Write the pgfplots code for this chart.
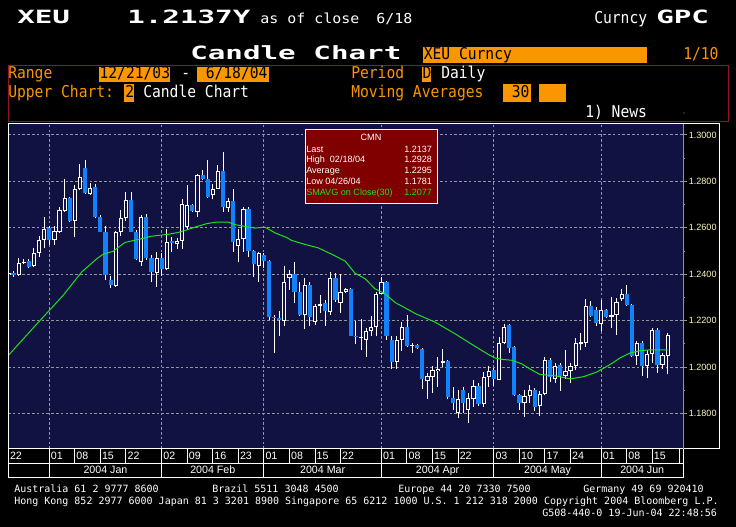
\documentclass[border=0pt]{standalone}
\usepackage{fontspec}
\setmainfont{Liberation Sans}
\newfontfamily\bbwide[FakeStretch=1.6]{DejaVu Sans Mono}
\newfontfamily\bbnarrow[FakeStretch=0.9]{DejaVu Sans Mono}
\newfontfamily\bbmono{DejaVu Sans Mono}
\usepackage{graphicx}
\usepackage{pgfplots}
\usepackage{pgfplotstable}
\pgfplotsset{compat=1.18}

\definecolor{bbnavy}{RGB}{18,18,66}
\definecolor{bborange}{RGB}{250,150,0}
\definecolor{bbblue}{RGB}{18,130,250}
\definecolor{bbgreen}{RGB}{30,225,30}
\definecolor{bbred}{RGB}{128,0,0}
\definecolor{bbframe}{RGB}{150,20,35}
\definecolor{gridgray}{RGB}{150,150,150}
\definecolor{ticklab}{RGB}{255,250,190}

% daily candles, i = trading day from 22 Dec 2003
\pgfplotstableread{
i O H L C
0 1.2395 1.2412 1.2388 1.2405
1 1.2405 1.2415 1.2390 1.2395
2 1.2397 1.2471 1.2393 1.2450
3 1.2450 1.2468 1.2443 1.2455
4 1.2457 1.2464 1.2428 1.2431
5 1.2435 1.2513 1.2431 1.2492
6 1.2492 1.2563 1.2474 1.2548
7 1.2548 1.2648 1.2513 1.2596
8 1.2599 1.2606 1.2528 1.2549
9 1.2546 1.2606 1.2528 1.2587
10 1.2584 1.2691 1.2577 1.2677
11 1.2674 1.2811 1.2670 1.2729
12 1.2729 1.2733 1.2627 1.2630
13 1.2630 1.2783 1.2559 1.2766
14 1.2766 1.2874 1.2762 1.2817
15 1.2857 1.2894 1.2746 1.2750
16 1.2746 1.2794 1.2740 1.2773
17 1.2776 1.2790 1.2641 1.2648
18 1.2648 1.2655 1.2582 1.2584
19 1.2580 1.2610 1.2374 1.2397
20 1.2374 1.2393 1.2343 1.2355
21 1.2350 1.2587 1.2347 1.2582
22 1.2582 1.2677 1.2563 1.2641
23 1.2641 1.2755 1.2630 1.2719
24 1.2719 1.2755 1.2582 1.2584
25 1.2582 1.2591 1.2460 1.2464
26 1.2454 1.2654 1.2437 1.2647
27 1.2647 1.2661 1.2461 1.2469
28 1.2469 1.2483 1.2366 1.2411
29 1.2407 1.2497 1.2347 1.2471
30 1.2471 1.2490 1.2394 1.2423
31 1.2421 1.2597 1.2419 1.2540
32 1.2543 1.2561 1.2497 1.2536
33 1.2531 1.2557 1.2511 1.2544
34 1.2544 1.2726 1.2511 1.2704
35 1.2604 1.2786 1.2597 1.2700
36 1.2697 1.2704 1.2669 1.2671
37 1.2669 1.2833 1.2647 1.2829
38 1.2829 1.2847 1.2804 1.2811
39 1.2809 1.2894 1.2729 1.2733
40 1.2740 1.2790 1.2723 1.2769
41 1.2767 1.2869 1.2766 1.2843
42 1.2843 1.2926 1.2669 1.2690
43 1.2686 1.2729 1.2669 1.2714
44 1.2714 1.2769 1.2497 1.2540
45 1.2523 1.2597 1.2451 1.2554
46 1.2550 1.2690 1.2497 1.2683
47 1.2683 1.2690 1.2476 1.2500
48 1.2500 1.2504 1.2387 1.2443
49 1.2437 1.2497 1.2369 1.2490
50 1.2483 1.2490 1.2426 1.2457
51 1.2457 1.2461 1.2204 1.2216
52 1.2216 1.2226 1.2060 1.2210
53 1.2210 1.2244 1.2136 1.2204
54 1.2201 1.2434 1.2176 1.2365
55 1.2386 1.2420 1.2332 1.2403
56 1.2403 1.2455 1.2278 1.2325
57 1.2325 1.2367 1.2221 1.2226
58 1.2223 1.2382 1.2165 1.2353
59 1.2353 1.2367 1.2179 1.2218
60 1.2193 1.2272 1.2183 1.2264
61 1.2264 1.2311 1.2233 1.2272
62 1.2278 1.2289 1.2179 1.2240
63 1.2236 1.2410 1.2226 1.2386
64 1.2386 1.2406 1.2282 1.2289
65 1.2278 1.2400 1.2233 1.2325
66 1.2325 1.2343 1.2321 1.2335
67 1.2335 1.2339 1.2133 1.2136
68 1.2136 1.2197 1.2098 1.2133
69 1.2126 1.2207 1.2074 1.2130
70 1.2116 1.2169 1.2045 1.2155
71 1.2155 1.2221 1.2136 1.2173
72 1.2172 1.2325 1.2133 1.2315
73 1.2315 1.2389 1.2315 1.2365
74 1.2365 1.2372 1.2119 1.2136
75 1.2119 1.2133 1.1991 1.2023
76 1.2023 1.2133 1.1994 1.2119
77 1.2119 1.2196 1.2070 1.2175
78 1.2175 1.2225 1.2088 1.2091
79 1.2094 1.2106 1.2062 1.2097
80 1.2094 1.2099 1.2080 1.2084
81 1.2080 1.2084 1.1906 1.1949
82 1.1939 1.1975 1.1865 1.1964
83 1.1957 1.2007 1.1888 1.1987
84 1.1983 1.2045 1.1914 1.1994
85 1.2019 1.2080 1.2001 1.2025
86 1.2025 1.2030 1.1862 1.1871
87 1.1868 1.1914 1.1816 1.1845
88 1.1803 1.1903 1.1780 1.1862
89 1.1903 1.1914 1.1801 1.1845
90 1.1816 1.1888 1.1758 1.1867
91 1.1862 1.1946 1.1830 1.1920
92 1.1920 1.1932 1.1833 1.1842
93 1.1842 1.1978 1.1828 1.1958
94 1.1958 1.2004 1.1914 1.1983
95 1.1987 1.1997 1.1920 1.1949
96 1.1943 1.2132 1.1943 1.2103
97 1.2103 1.2186 1.2099 1.2175
98 1.2181 1.2186 1.2062 1.2081
99 1.2088 1.2091 1.1877 1.1881
100 1.1881 1.1886 1.1816 1.1848
101 1.1845 1.1903 1.1787 1.1874
102 1.1874 1.1925 1.1845 1.1903
103 1.1903 1.1910 1.1810 1.1830
104 1.1835 1.1898 1.1790 1.1886
105 1.1886 1.2044 1.1879 1.2030
106 1.2030 1.2040 1.1936 1.1959
107 1.1950 1.2019 1.1933 1.2004
108 1.2011 1.2019 1.1898 1.1964
109 1.1962 1.2075 1.1950 1.1983
110 1.1983 1.2019 1.1933 1.2007
111 1.2004 1.2125 1.1990 1.2104
112 1.2101 1.2149 1.2073 1.2107
113 1.2104 1.2292 1.2087 1.2263
114 1.2263 1.2286 1.2218 1.2221
115 1.2246 1.2258 1.2178 1.2189
116 1.2186 1.2289 1.2154 1.2246
117 1.2246 1.2249 1.2211 1.2218
118 1.2215 1.2303 1.2168 1.2223
119 1.2223 1.2296 1.2139 1.2279
120 1.2292 1.2335 1.2286 1.2317
121 1.2317 1.2353 1.2263 1.2268
122 1.2268 1.2272 1.2044 1.2050
123 1.2047 1.2115 1.2011 1.2104
124 1.2104 1.2111 1.1964 1.2007
125 1.2004 1.2075 1.1954 1.2058
126 1.2058 1.2168 1.2019 1.2161
127 1.2161 1.2168 1.1976 1.2011
128 1.2011 1.2061 1.1993 1.2054
129 1.2050 1.2147 1.1969 1.2137
}\candles

% 30-day moving average
\pgfplotstableread{
i ma
0 1.2051
5.3 1.2180
10.7 1.2309
14.3 1.2409
17.3 1.2467
18.5 1.2486
20.5 1.2499
22.8 1.2537
25.8 1.2552
28.0 1.2564
31.2 1.2572
33.2 1.2580
34.6 1.2589
36.5 1.2603
38.8 1.2618
40.8 1.2625
43.0 1.2625
44.3 1.2614
46.3 1.2606
48.3 1.2599
50.2 1.2603
52.2 1.2578
54.5 1.2558
55.4 1.2546
58.0 1.2529
60.6 1.2514
63.3 1.2486
65.9 1.2457
67.8 1.2405
69.8 1.2381
71.7 1.2338
73.7 1.2316
75.7 1.2278
77.6 1.2256
79.6 1.2231
83.5 1.2194
87.4 1.2144
91.3 1.2090
93.9 1.2055
95.2 1.2040
96.5 1.2034
98.5 1.2030
100.4 1.2015
102.1 1.1992
104.0 1.1969
107.3 1.1962
109.9 1.1950
112.5 1.1959
115.1 1.1979
117.7 1.2011
119.7 1.2040
121.6 1.2061
123.6 1.2071
125.6 1.2075
129 1.2075
}\sma

\pgfplotsset{
  candle part/.style 2 args={draw=none, mark=none, forget plot,
    error bars/.cd, y dir=plus, y explicit, error mark=none,
    error bar style={draw=#1, line width=#2, solid}},
}

\begin{document}
\begin{tikzpicture}
% page in pixel units (y down)
\begin{scope}[x=0.75pt,y=-0.75pt]
\useasboundingbox (0,0) rectangle (736,527);
\fill[black] (0,0) rectangle (736,527);
\end{scope}

\begin{axis}[
    at={(6pt,-336.75pt)}, anchor=south west,
    width=506.5pt, height=243.75pt, scale only axis,
    xmin=-0.08, xmax=132.07, ymin=1.1648, ymax=1.3047,
    axis background/.style={fill=bbnavy},
    axis line style={draw=none},
    xtick={8,30,50,73,95,116}, xticklabels={}, x tick style={draw=none},
    ytick={1.18,1.2,1.22,1.24,1.26,1.28,1.3},
    minor y tick num=1,
    ytick pos=right, yticklabel pos=right,
    tick align=outside, major tick length=3pt, minor tick length=1.5pt,
    y tick style={draw=gridgray, line width=0.75pt},
    xmajorgrids, ymajorgrids,
    grid style={draw=gridgray, line width=0.75pt, dash pattern=on 2pt off 1.6pt},
    yticklabel style={/pgf/number format/.cd, fixed, fixed zerofill, precision=4,
        assume math mode=true, /tikz/.cd,
        font=\fontsize{6.8}{8}\selectfont, text=ticklab, anchor=west, xshift=-2.4pt},
]
% wicks
\addplot[candle part={white}{0.75pt}]
    table[x=i, y=L, y error expr=\thisrow{H}-\thisrow{L}] {\candles};
% up bodies (hollow)
\addplot[candle part={white}{3.15pt}]
    table[x=i, y=O, y error expr={max(\thisrow{C}-\thisrow{O},0)}] {\candles};
\addplot[candle part={bbnavy}{1.65pt}]
    table[x=i, y expr=\thisrow{O}+0.00043,
          y error expr={max(\thisrow{C}-\thisrow{O}-0.00086,0)}] {\candles};
% down bodies
\addplot[candle part={bbblue}{3.15pt}]
    table[x=i, y=C, y error expr={max(\thisrow{O}-\thisrow{C},0)}] {\candles};
% 30-day SMA
\addplot[bbgreen, line width=0.75pt, mark=none] table[x=i, y=ma] {\sma};
\end{axis}

\begin{scope}[x=0.75pt,y=-0.75pt, every node/.style={inner sep=0pt}]
% chart frame
\draw[white, line width=0.75pt] (8,124) rectangle (719,449);
\draw[gridgray, line width=0.75pt] (683.3,124) -- (683.3,449);

% date band
\draw[white, line width=0.75pt] (8,449) -- (8,477) -- (683.3,477) -- (683.3,449);
\draw[white, line width=0.75pt] (8,463) -- (683.3,463);
\draw[white, line width=0.75pt] (679,449) -- (679,463);
\foreach \i/\t in {0/22,8/01,13/08,18/15,23/22,30/02,35/09,40/16,45/23,50/01,55/08,60/15,65/22,
                   73/01,78/08,83/15,88/22,95/03,100/10,105/17,110/24,116/01,121/08,126/15}{
  \pgfmathsetmacro\xx{8.4+5.11*\i}
  \draw[white, line width=0.75pt] (\xx,449) -- (\xx,463);
  \node[anchor=base west, text=white, font=\fontsize{8}{9}\selectfont] at ({\xx+1.4},459.8) {\t};
}
\foreach \a/\b/\m in {8/30/Jan,30/50/Feb,50/73/Mar,73/95/Apr,95/116/May}{
  \pgfmathsetmacro\xa{8.4+5.11*\a}
  \pgfmathsetmacro\xb{8.4+5.11*\b}
  \draw[white, line width=0.75pt] (\xa,463) -- (\xa,477);
  \node[anchor=base, text=white, font=\fontsize{8}{9}\selectfont] at ({(\xa+\xb)/2},473.8) {2004 \m};
}
\draw[white, line width=0.75pt] (601.2,463) -- (601.2,477);
\node[anchor=base, text=white, font=\fontsize{8}{9}\selectfont] at (642.2,473.8) {2004 Jun};

% statistics box
\draw[white, fill=bbred, line width=0.75pt] (305,130) rectangle (437,204);
\begin{scope}[every node/.append style={font=\fontsize{6.8}{8}\selectfont, text=white}]
\node[anchor=base] at (371,141) {CMN};
\node[anchor=base west] at (306,152.4) {Last};
\node[anchor=base east] at (432.3,152.4) {1.2137};
\node[anchor=base west] at (306,162.9) {High\ \ 02/18/04};
\node[anchor=base east] at (432.3,162.9) {1.2928};
\node[anchor=base west] at (306,173.6) {Average};
\node[anchor=base east] at (432.3,173.6) {1.2295};
\node[anchor=base west] at (306,184.2) {Low\ 04/26/04};
\node[anchor=base east] at (432.3,184.2) {1.1781};
\node[anchor=base west, text=bbgreen] at (306,196) {SMAVG on Close(30)};
\node[anchor=base east, text=bbgreen] at (432.3,196) {1.2077};
\end{scope}

% header
\node[anchor=base west, text=white, font=\bbwide\bfseries\fontsize{13.7}{15}\selectfont] at (17,24) {XEU};
\node[anchor=base west, text=white, font=\bbwide\bfseries\fontsize{13.7}{15}\selectfont] at (127,24) {1.2137Y};
\node[anchor=base west, text=white, font=\bbmono\fontsize{10.3}{12}\selectfont] at (260,23.5) {\scalebox{1.09}[1]{as of close}};
\node[anchor=base west, text=white, font=\bbmono\fontsize{10.3}{12}\selectfont] at (376,23.5) {\scalebox{1.09}[1]{6/18}};
\node[anchor=base west, text=white, font=\bbnarrow\fontsize{12.2}{14}\selectfont] at (594,23.5) {Curncy};
\node[anchor=base west, text=white, font=\bbwide\bfseries\fontsize{13.7}{15}\selectfont] at (656,24) {GPC};

\node[anchor=base west, text=white, font=\bbwide\bfseries\fontsize{13.7}{15}\selectfont] at (190,60) {Candle Chart};
\fill[bborange] (423,47) rectangle (647,63);
\node[anchor=base west, text=black, font=\bbnarrow\fontsize{12.2}{14}\selectfont] at (423.5,60) {XEU Curncy};
\node[anchor=base west, text=bborange, font=\bbnarrow\fontsize{12.2}{14}\selectfont] at (683,60) {1/10};

% settings panel
\draw[bbframe, line width=0.75pt] (8,65.7) rectangle (728,121.7);
\fill[bborange] (98.6,66.7) rectangle (170,81.7);
\fill[bborange] (197,66.7) rectangle (268.5,81.7);
\fill[bborange] (421.6,66.7) rectangle (431,81.7);
\fill[bborange] (124.4,84) rectangle (133.8,101.7);
\fill[bborange] (503,84) rectangle (530.5,101.7);
\fill[bborange] (539,84) rectangle (566,101.7);
\begin{scope}[every node/.append style={anchor=base west, font=\bbnarrow\fontsize{12.2}{14}\selectfont}]
\node[text=bborange] at (8,78.5) {Range};
\node[text=black] at (99.3,78.5) {12/21/03};
\node[text=white] at (181,78.5) {-};
\node[text=black] at (205.5,78.5) {6/18/04};
\node[text=bborange] at (351,78.5) {Period};
\node[text=black] at (422.3,78.5) {D};
\node[text=white] at (441,78.5) {Daily};
\node[text=bborange] at (8,97.5) {Upper Chart:};
\node[text=black] at (125,97.5) {2};
\node[text=white] at (143,97.5) {Candle Chart};
\node[text=bborange] at (351,97.5) {Moving Averages};
\node[text=black] at (511.5,97.5) {30};
\node[text=white] at (585,117.5) {1) News};
\end{scope}
\fill[gridgray] (684,113) circle (0.6);

% footer
\begin{scope}[every node/.append style={anchor=base west, text=white, font=\bbmono\fontsize{7.5}{9}\selectfont}]
\node at (14,493) {Australia 61 2 9777 8600};
\node at (212,493) {Brazil 5511 3048 4500};
\node at (398,493) {Europe 44 20 7330 7500};
\node at (583,493) {Germany 49 69 920410};
\node at (14,504.5) {Hong Kong 852 2977 6000 Japan 81 3 3201 8900 Singapore 65 6212 1000 U.S. 1 212 318 2000 Copyright 2004 Bloomberg L.P.};
\node at (542,516) {G508-440-0 19-Jun-04 22:48:56};
\end{scope}
\end{scope}
\end{tikzpicture}
\end{document}
